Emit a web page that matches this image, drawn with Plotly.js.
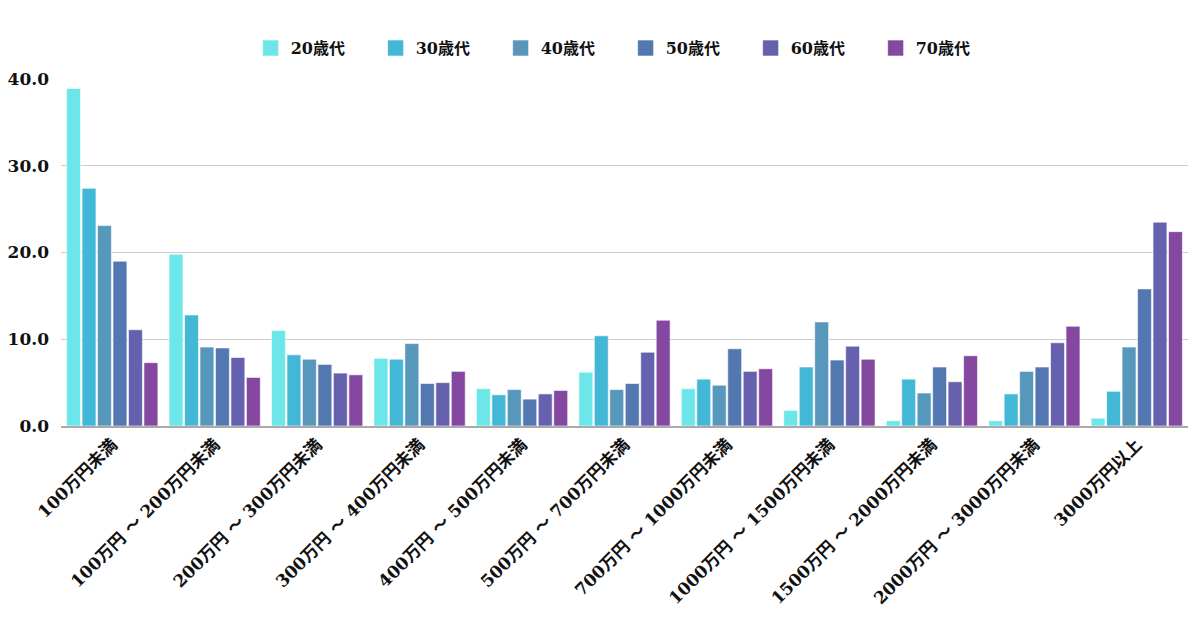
<!DOCTYPE html>
<html>
<head>
<meta charset="utf-8">
<script src="https://cdn.plot.ly/plotly-3.0.1.min.js"></script>
<style>html,body{margin:0;padding:0;background:#fff;}#chart{width:1200px;height:630px;}</style>
</head>
<body>
<div id="chart"></div>
<script>
const categories = ["100万円未満","100万円 ～ 200万円未満","200万円 ～ 300万円未満","300万円 ～ 400万円未満","400万円 ～ 500万円未満","500万円 ～ 700万円未満","700万円 ～ 1000万円未満","1000万円 ～ 1500万円未満","1500万円 ～ 2000万円未満","2000万円 ～ 3000万円未満","3000万円以上"];
const seriesNames = ["20歳代","30歳代","40歳代","50歳代","60歳代","70歳代"];
const age20 = [38.9, 19.8, 11.0, 7.8, 4.3, 6.2, 4.3, 1.8, 0.6, 0.6, 0.9];
const age30 = [27.4, 12.8, 8.2, 7.7, 3.6, 10.4, 5.4, 6.8, 5.4, 3.7, 4.0];
const age40 = [23.1, 9.1, 7.7, 9.5, 4.2, 4.2, 4.7, 12.0, 3.8, 6.3, 9.1];
const age50 = [19.0, 9.0, 7.1, 4.9, 3.1, 4.9, 8.9, 7.6, 6.8, 6.8, 15.8];
const age60 = [11.1, 7.9, 6.1, 5.0, 3.7, 8.5, 6.3, 9.2, 5.1, 9.6, 23.5];
const age70 = [7.3, 5.6, 5.9, 6.3, 4.1, 12.2, 6.6, 7.7, 8.1, 11.5, 22.4];
const colors = ["#6ce6e8","#42b7d6","#5897bc","#5377b0","#6661ae","#8448a1"];
const yTicks = [0, 10, 20, 30, 40];

const allSeries = [age20, age30, age40, age50, age60, age70];
const FONT = "'DejaVu Serif', 'Noto Sans CJK JP', serif";

const traces = allSeries.map((vals, i) => ({
  type: 'bar',
  name: seriesNames[i],
  x: categories,
  y: vals,
  legendgroup: 'g' + i,
  showlegend: false,
  marker: {color: colors[i], line: {color: 'rgba(255,255,255,0.6)', width: 1}},
  hoverinfo: 'x+y+name'
}));
// legend entries with larger square swatches
seriesNames.forEach((nm, i) => {
  traces.push({
    type: 'scatter', mode: 'markers', name: nm,
    x: [null], y: [null], legendgroup: 'g' + i, showlegend: true,
    marker: {symbol: 'square', size: 20, color: colors[i], line: {color: 'rgba(255,255,255,0.6)', width: 1}}
  });
});

const layout = {
  width: 1200, height: 630,
  paper_bgcolor: '#ffffff', plot_bgcolor: '#ffffff',
  margin: {l: 61, r: 12, t: 79, b: 204},
  barmode: 'group',
  bargap: 0.094,
  bargroupgap: 0.1,
  font: {family: FONT, color: '#111', size: 15, weight: 'bold'},
  legend: {
    orientation: 'h', x: 0.501, xanchor: 'center', y: 1.04, yanchor: 'bottom',
    font: {family: FONT, size: 16, color: '#111', weight: 'bold'},
    entrywidth: 80, entrywidthmode: 'pixels',
    traceorder: 'normal'
  },
  xaxis: {
    type: 'category',
    tickangle: -45,
    tickfont: {family: FONT, size: 17, color: '#111', weight: 'bold'},
    showgrid: false,
    showline: true, linecolor: '#aaaaaa', linewidth: 2,
    ticks: '', automargin: false
  },
  yaxis: {
    range: [0, 40],
    tickvals: yTicks,
    tickformat: '.1f',
    tickfont: {family: FONT, size: 17, color: '#111', weight: 'bold'},
    showgrid: true, gridcolor: '#cccccc', gridwidth: 1,
    zeroline: false, showline: false, ticks: '',
    ticklabelstandoff: 11,
    automargin: false
  }
};

Plotly.newPlot('chart', traces, layout, {displayModeBar: false, staticPlot: true});
</script>
</body>
</html>
